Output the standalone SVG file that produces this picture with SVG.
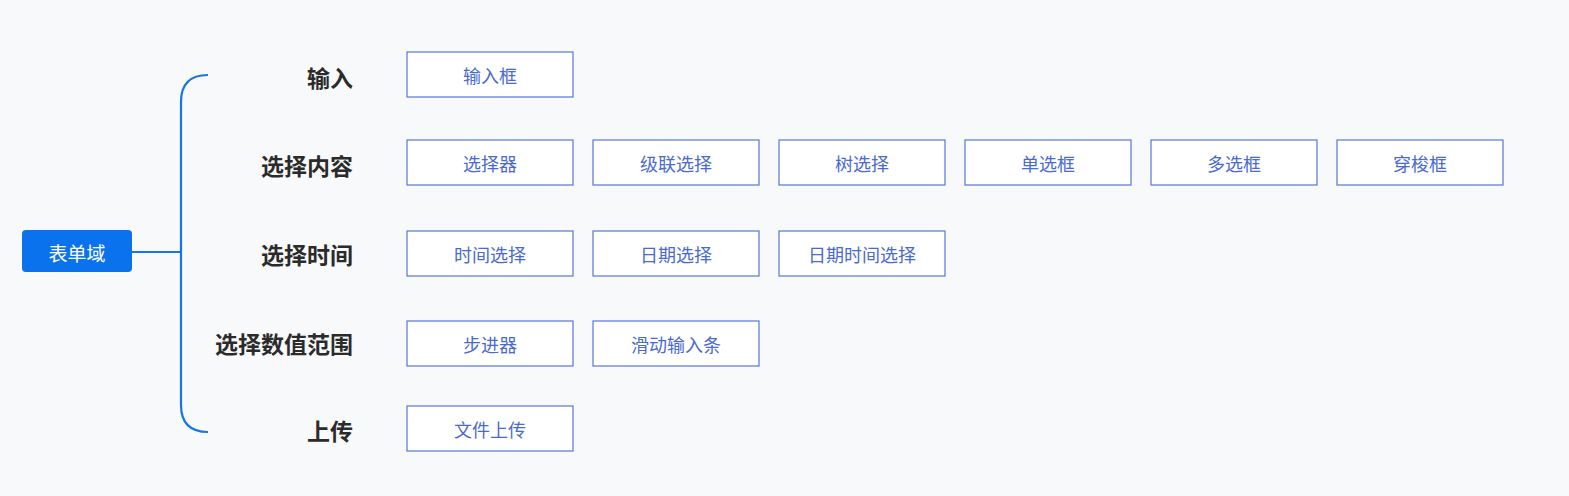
<svg xmlns="http://www.w3.org/2000/svg" width="1569" height="496" viewBox="0 0 1569 496">
<style>
.b{fill:#fff;stroke:#5676d4;stroke-width:1.2}
.t{font-family:"Noto Sans CJK SC",sans-serif;font-size:18px;fill:#4a6ad0;text-anchor:middle;dominant-baseline:central}
.l{font-family:"Noto Sans CJK SC",sans-serif;font-size:23px;font-weight:bold;fill:#2b2b2b;text-anchor:end;dominant-baseline:central}
.c{fill:none;stroke:#1676e8;stroke-width:2.2}
</style>
<rect width="1569" height="496" fill="#f8f9fb"/>
<g id="connectors">
<path class="c" d="M208,75 Q181,75 181,102 V405 Q181,432 208,432"/>
<path class="c" d="M132,252 H181"/>
</g>
<g id="root"><rect x="22" y="230" width="110" height="42" rx="4" fill="#0a72ed"/><text x="77" y="252" class="t" style="fill:#fff;font-size:19px">表单域</text></g>
<g id="labels">
<text class="l" x="353" y="77">输入</text>
<text class="l" x="353" y="165">选择内容</text>
<text class="l" x="353" y="254">选择时间</text>
<text class="l" x="353" y="343">选择数值范围</text>
<text class="l" x="353" y="430">上传</text>
</g>
<g id="n1"><rect class="b" x="407" y="52" width="166" height="45"/><text class="t" x="490" y="74.5">输入框</text></g>
<g id="n2"><rect class="b" x="407" y="140" width="166" height="45"/><text class="t" x="490" y="162.5">选择器</text></g>
<g id="n3"><rect class="b" x="593" y="140" width="166" height="45"/><text class="t" x="676" y="162.5">级联选择</text></g>
<g id="n4"><rect class="b" x="779" y="140" width="166" height="45"/><text class="t" x="862" y="162.5">树选择</text></g>
<g id="n5"><rect class="b" x="965" y="140" width="166" height="45"/><text class="t" x="1048" y="162.5">单选框</text></g>
<g id="n6"><rect class="b" x="1151" y="140" width="166" height="45"/><text class="t" x="1234" y="162.5">多选框</text></g>
<g id="n7"><rect class="b" x="1337" y="140" width="166" height="45"/><text class="t" x="1420" y="162.5">穿梭框</text></g>
<g id="n8"><rect class="b" x="407" y="231" width="166" height="45"/><text class="t" x="490" y="253.5">时间选择</text></g>
<g id="n9"><rect class="b" x="593" y="231" width="166" height="45"/><text class="t" x="676" y="253.5">日期选择</text></g>
<g id="n10"><rect class="b" x="779" y="231" width="166" height="45"/><text class="t" x="862" y="253.5">日期时间选择</text></g>
<g id="n11"><rect class="b" x="407" y="321" width="166" height="45"/><text class="t" x="490" y="343.5">步进器</text></g>
<g id="n12"><rect class="b" x="593" y="321" width="166" height="45"/><text class="t" x="676" y="343.5">滑动输入条</text></g>
<g id="n13"><rect class="b" x="407" y="406" width="166" height="45"/><text class="t" x="490" y="428.5">文件上传</text></g>
</svg>
